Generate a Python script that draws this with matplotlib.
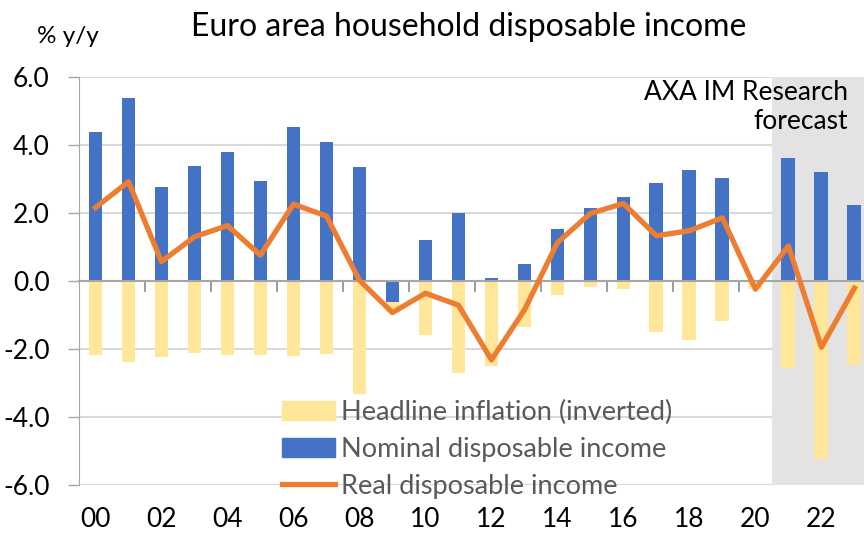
import matplotlib.pyplot as plt
from matplotlib.patches import Patch
from matplotlib.lines import Line2D

plt.rcParams['font.family'] = ['Lato', 'DejaVu Sans']

years = ['00', '01', '02', '03', '04', '05', '06', '07', '08', '09', '10', '11',
         '12', '13', '14', '15', '16', '17', '18', '19', '20', '21', '22', '23']
nominal = [4.38, 5.39, 2.78, 3.38, 3.80, 2.94, 4.52, 4.09, 3.34, -0.62, 1.21, 1.99,
           0.09, 0.49, 1.52, 2.15, 2.48, 2.87, 3.28, 3.03, 0.0, 3.63, 3.20, 2.24]
inflation = [-2.17, -2.39, -2.25, -2.11, -2.17, -2.18, -2.20, -2.15, -3.32, -0.30, -1.60, -2.71,
             -2.49, -1.34, -0.41, -0.18, -0.24, -1.51, -1.74, -1.18, -0.24, -2.57, -5.24, -2.47]
real = [2.16, 2.92, 0.57, 1.30, 1.63, 0.76, 2.26, 1.91, 0.02, -0.93, -0.36, -0.71,
        -2.32, -0.85, 1.13, 1.99, 2.28, 1.33, 1.48, 1.86, -0.24, 1.03, -1.95, -0.21]
forecast_start = 21

blue = '#4472C4'
orange = '#ED7D31'
yellow = '#FFE699'
grey_txt = '#595959'

fig = plt.figure(figsize=(8.64, 5.35), dpi=100)
ax = fig.add_axes([0.0914, 0.0935, 0.9166, 0.7625])

x = list(range(len(years)))
# stacked like excel: negative inflation stacks under negative nominal
infl_bottom = [min(n, 0) for n in nominal]

ax.axvspan(forecast_start - 0.5, len(years) - 0.5, color='#E3E3E3', zorder=1, lw=0)
ax.bar(x, nominal, width=0.42, color=blue, zorder=2)
ax.bar(x, inflation, width=0.42, bottom=infl_bottom, color=yellow, zorder=2)
ax.plot(x, real, color=orange, lw=3.8, zorder=3, solid_joinstyle='round')

ax.set_xlim(-0.5, len(years) - 0.5)
ax.set_ylim(-6, 6)
ax.set_yticks([6, 4, 2, 0, -2, -4, -6])
ax.set_yticklabels(['%.1f' % v for v in [6, 4, 2, 0, -2, -4, -6]])
ax.yaxis.grid(True, color='#D9D9D9', lw=1.5, zorder=0.5)
ax.set_axisbelow(True)
ax.tick_params(axis='y', length=8, width=1, color='#A6A6A6', labelsize=19, pad=13)

for s in ['top', 'right']:
    ax.spines[s].set_visible(False)
ax.spines['left'].set_color('#A6A6A6')
ax.spines['bottom'].set_position(('data', 0))
ax.spines['bottom'].set_color('#A6A6A6')
ax.spines['bottom'].set_linewidth(1.5)
ax.set_xticks([i + 1.5 for i in range(0, len(years) - 2, 2)])
ax.set_xticklabels([])
ax.tick_params(axis='x', length=8, width=1.2, color='#8C8C8C')

sec = ax.secondary_xaxis(0)
sec.set_xticks(x[::2])
sec.set_xticklabels(years[::2])
sec.spines['bottom'].set_visible(False)
sec.tick_params(length=0, labelsize=19, pad=16)

fig.text(0.543, 0.95, 'Euro area household disposable income', ha='center', va='center', fontsize=23)
fig.text(0.079, 0.931, '% y/y', ha='center', va='center', fontsize=17.5)
ax.text(0.971, 0.992, 'AXA IM Research\nforecast', ha='right', va='top',
        transform=ax.transAxes, fontsize=19, linespacing=1.2, zorder=5)

handles = [Patch(color=yellow), Patch(color=blue), Line2D([], [], color=orange, lw=3.8)]
labels = ['Headline inflation (inverted)', 'Nominal disposable income', 'Real disposable income']
leg = ax.legend(handles, labels, loc='lower left', bbox_to_anchor=(0.243, -0.06), frameon=False,
                fontsize=19.5, handlelength=1.95, handletextpad=0.22, labelspacing=0.43,
                borderaxespad=0)
for t in leg.get_texts():
    t.set_color(grey_txt)

fig.savefig('out.png', dpi=100)
